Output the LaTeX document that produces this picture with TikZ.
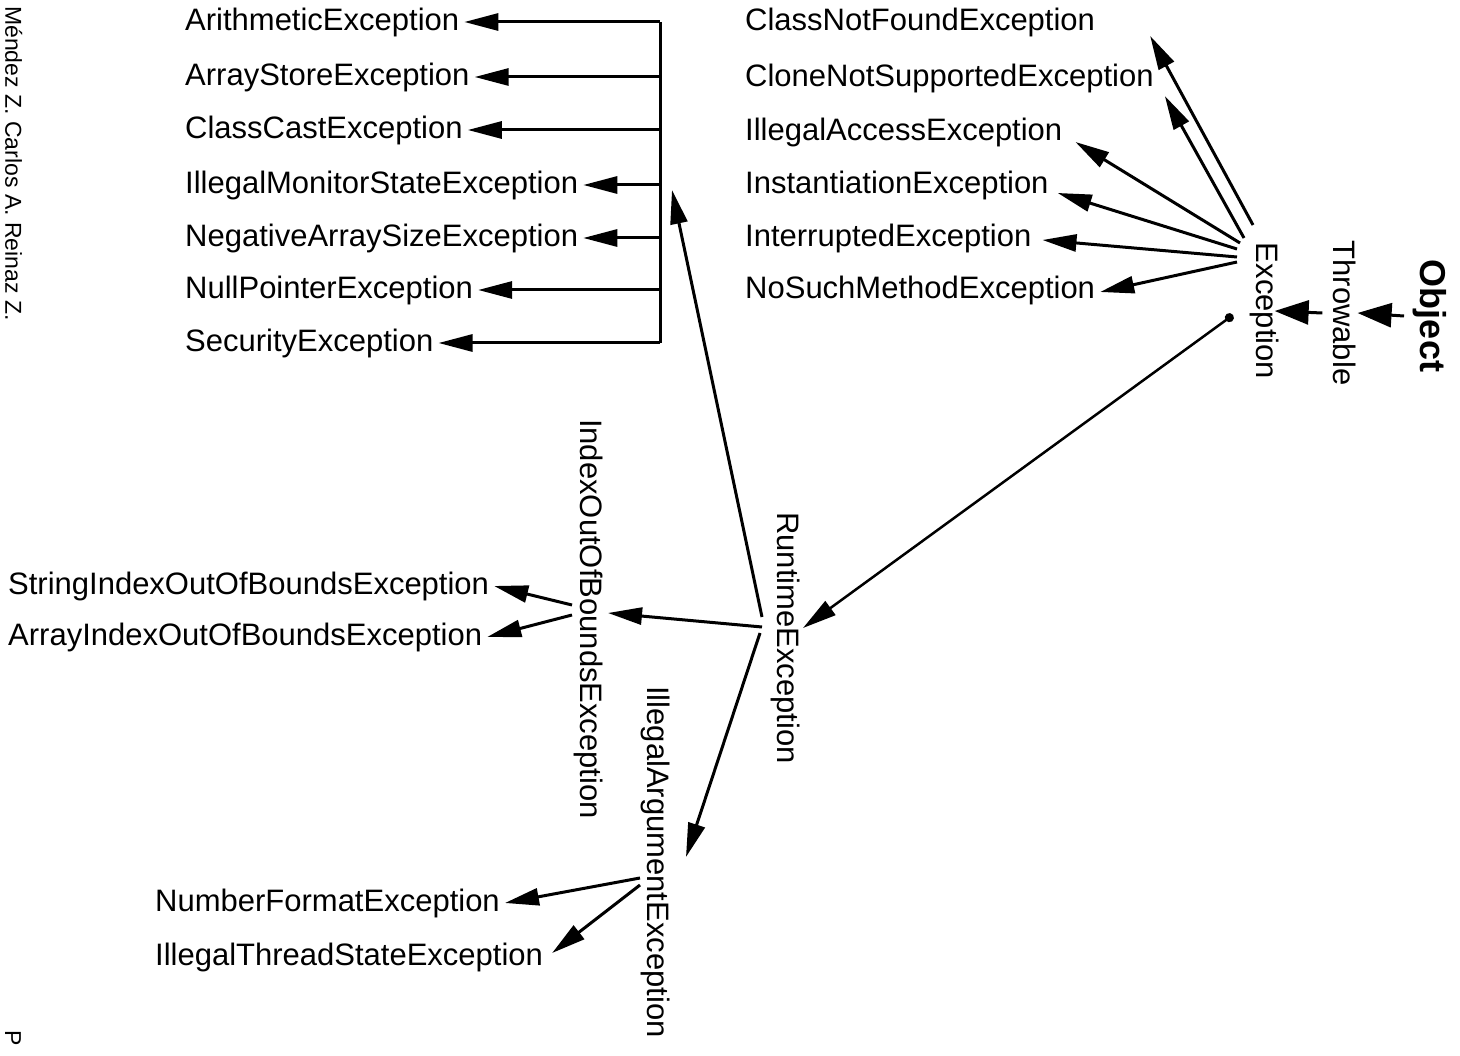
\documentclass[tikz,border=0pt]{standalone}
\usepackage{fontspec}
\setmainfont{Liberation Sans}
\usetikzlibrary{arrows.meta,calc}

\begin{document}
\begin{tikzpicture}[x=1pt,y=-1pt,
    cls/.style={inner sep=5pt,font=\fontsize{31}{36}\selectfont},
    vcls/.style={cls,rotate=-90},
    inh/.style={line width=3pt,-{Triangle[length=34pt,width=17pt]}},
    rootinh/.style={line width=3pt,-{Triangle[length=34pt,width=24pt]}},
    brkline/.style={line width=3pt}]
    \useasboundingbox (0,0) rectangle (1460,1056);

    % Margin notes of the page
    \node[rotate=-90,anchor=south west,inner sep=0pt,font=\fontsize{23}{26}\selectfont] (auth) at (5,6) {Méndez Z. Carlos A. Reinaz Z.};
    \node[rotate=-90,anchor=south west,inner sep=0pt,font=\fontsize{23}{26}\selectfont] (pg) at (5,1030) {P};

    % Root classes
    \node[vcls,font=\fontsize{36}{40}\selectfont\bfseries] (obj) at (1430,316) {Object};
    \node[vcls] (thr) at (1345,313) {Throwable};
    \node[vcls] (exc) at (1265,311) {Exception};

    % Checked exceptions
    \node[cls,anchor=west] (cnf) at (740,22) {ClassNotFoundException};
    \node[cls,anchor=west] (cns) at (740,78) {CloneNotSupportedException};
    \node[cls,anchor=west] (iace) at (740,132) {IllegalAccessException};
    \node[cls,anchor=west] (ie) at (740,185) {InstantiationException};
    \node[cls,anchor=west] (ire) at (740,238) {InterruptedException};
    \node[cls,anchor=west] (nsme) at (740,290) {NoSuchMethodException};

    % Runtime exceptions
    \node[vcls] (rte) at (786,638) {RuntimeException};
    \node[cls,anchor=west] (ae) at (180,22) {ArithmeticException};
    \node[cls,anchor=west] (ase) at (180,77) {ArrayStoreException};
    \node[cls,anchor=west] (cce) at (180,130) {ClassCastException};
    \node[cls,anchor=west] (imse) at (180,185) {IllegalMonitorStateException};
    \node[cls,anchor=west] (nase) at (180,238) {NegativeArraySizeException};
    \node[cls,anchor=west] (npe) at (180,290) {NullPointerException};
    \node[cls,anchor=west] (se) at (180,343) {SecurityException};

    \node[vcls] (iob) at (589,619) {IndexOutOfBoundsException};
    \node[cls,anchor=west] (sio) at (3,586) {StringIndexOutOfBoundsException};
    \node[cls,anchor=west] (aio) at (3,637) {ArrayIndexOutOfBoundsException};

    \node[vcls] (iae) at (656,862) {IllegalArgumentException};
    \node[cls,anchor=west] (nfe) at (150,903) {NumberFormatException};
    \node[cls,anchor=west] (itse) at (150,957) {IllegalThreadStateException};

    % Object -> Throwable -> Exception
    \draw[rootinh] ($(obj.south)+(-4,0)$) -- ($(thr.north)+(-4,0)$);
    \draw[rootinh] ($(thr.south)+(-6,0)$) -- ($(exc.north)+(-10,0)$);

    % Fan of the checked exceptions
    \draw[inh] ($(exc)+(-12,-86)$) -- ($(cnf.east)+(50,14)$);
    \draw[inh] ($(exc)+(-21,-73)$) -- ($(cns.east)+(6,18)$);
    \draw[inh] ($(exc)+(-25,-68)$) -- ($(iace.east)+(8,10)$);
    \draw[inh] ($(exc)+(-28,-62)$) -- ($(ie.east)+(4,8)$);
    \draw[inh] ($(exc)+(-28,-54)$) -- ($(ire.east)+(6,2)$);
    \draw[inh] ($(exc)+(-28,-49)$) -- ($(nsme.east)+(0,2)$);

    % Exception -> RuntimeException
    \draw[line width=2.5pt,{Circle[length=9pt]}-{Triangle[length=34pt,width=17pt]}] ($(exc)+(-32,4)$) -- ($(rte)+(17,-10)$);

    % Bracket of the runtime exceptions
    \coordinate (bx) at (660,0);
    \coordinate (brk) at ($(imse.east -| bx)+(12,5)$);
    \draw[brkline] (ae.east -| bx) -- (se.east -| bx);
    \draw[inh] (ae.east -| bx) -- (ae.east);
    \draw[inh] (ase.east -| bx) -- (ase.east);
    \draw[inh] (cce.east -| bx) -- (cce.east);
    \draw[inh] (imse.east -| bx) -- (imse.east);
    \draw[inh] (nase.east -| bx) -- (nase.east);
    \draw[inh] (npe.east -| bx) -- (npe.east);
    \draw[inh] (se.east -| bx) -- (se.east);
    \draw[inh] ($(rte)+(-24,-21)$) -- (brk);

    % Runtime subclasses
    \draw[inh] ($(rte)+(-24,-11)$) -- ($(iob)+(19,-6)$);
    \draw[inh] ($(rte)+(-26,-5)$) -- ($(iae)+(30,-5)$);
    \draw[inh] ($(iob)+(-17,-14)$) -- (sio.east);
    \draw[inh] ($(iob)+(-17,-4)$) -- (aio.east);
    \draw[inh] ($(iae)+(-16,16)$) -- (nfe.east);
    \draw[inh] ($(iae)+(-16,23)$) -- ($(itse.east)+(4,-4)$);
\end{tikzpicture}
\end{document}
